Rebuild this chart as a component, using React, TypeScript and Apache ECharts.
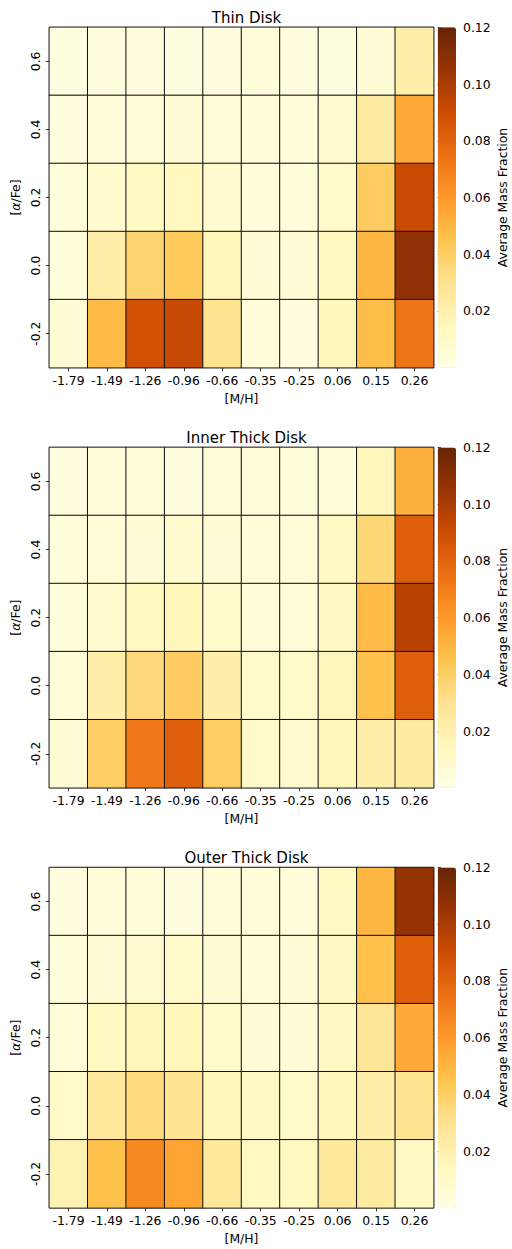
import React, { useEffect, useRef } from 'react';
import * as echarts from 'echarts';

const mhLabels = ['-1.79', '-1.49', '-1.26', '-0.96', '-0.66', '-0.35', '-0.25', '0.06', '0.15', '0.26'];
const afeLabels = ['-0.2', '0.0', '0.2', '0.4', '0.6'];
const panelTitles = ['Thin Disk', 'Inner Thick Disk', 'Outer Thick Disk'];
const colorbarTicks = [0.02, 0.04, 0.06, 0.08, 0.1, 0.12];
const colorbarLabel = 'Average Mass Fraction';
const colorMin = 0;
const colorMax = 0.12;
const ylOrBr = ['#ffffe5', '#fff7bc', '#fee391', '#fec44f', '#fe9929', '#ec7014', '#cc4c02', '#993404', '#662506'];

// rows listed from top ([α/Fe]=0.6) to bottom ([α/Fe]=-0.2)
const thinDisk = [
  [0.002, 0.003, 0.003, 0.002, 0.003, 0.004, 0.003, 0.002, 0.006, 0.022],
  [0.003, 0.004, 0.005, 0.006, 0.005, 0.004, 0.004, 0.008, 0.024, 0.054],
  [0.004, 0.008, 0.012, 0.014, 0.008, 0.004, 0.004, 0.010, 0.041, 0.091],
  [0.004, 0.022, 0.038, 0.042, 0.016, 0.006, 0.006, 0.014, 0.050, 0.108],
  [0.006, 0.048, 0.088, 0.092, 0.030, 0.004, 0.003, 0.015, 0.047, 0.073],
];
const innerThickDisk = [
  [0.003, 0.004, 0.004, 0.003, 0.004, 0.004, 0.004, 0.004, 0.016, 0.052],
  [0.004, 0.005, 0.006, 0.008, 0.006, 0.005, 0.005, 0.012, 0.036, 0.082],
  [0.004, 0.008, 0.014, 0.016, 0.009, 0.005, 0.005, 0.013, 0.048, 0.096],
  [0.005, 0.021, 0.035, 0.041, 0.021, 0.010, 0.010, 0.016, 0.046, 0.082],
  [0.006, 0.040, 0.072, 0.082, 0.040, 0.010, 0.008, 0.016, 0.022, 0.024],
];
const outerThickDisk = [
  [0.003, 0.004, 0.004, 0.003, 0.004, 0.004, 0.004, 0.012, 0.050, 0.106],
  [0.004, 0.006, 0.008, 0.010, 0.007, 0.005, 0.006, 0.013, 0.046, 0.082],
  [0.005, 0.013, 0.016, 0.016, 0.010, 0.006, 0.006, 0.013, 0.028, 0.054],
  [0.010, 0.026, 0.034, 0.030, 0.016, 0.012, 0.010, 0.016, 0.022, 0.030],
  [0.018, 0.046, 0.066, 0.056, 0.026, 0.014, 0.014, 0.026, 0.024, 0.012],
];
const panels = [thinDisk, innerThickDisk, outerThickDisk];

const FONT = 'DejaVu Sans';

export default function App() {
  const ref = useRef<HTMLDivElement>(null);
  useEffect(() => {
    if (!ref.current) return;
    const chart = echarts.init(ref.current, undefined, { renderer: 'svg' });
    const step = 420.1;
    const gLeft = 49.3, gWidth = 384.4, gTop = 27.3, gHeight = 340.4;
    const cbLeft = 437.7, cbWidth = 18.3;

    const grid: any[] = [];
    const xAxis: any[] = [];
    const yAxis: any[] = [];
    const series: any[] = [];
    const visualMap: any[] = [];
    const title: any[] = [];

    panels.forEach((rows, i) => {
      const top = gTop + step * i;
      grid.push({ left: gLeft, top, width: gWidth, height: gHeight, containLabel: false });
      xAxis.push({
        type: 'category', gridIndex: i, data: mhLabels,
        name: '[M/H]', nameLocation: 'middle', nameGap: 25,
        nameTextStyle: { fontFamily: FONT, fontSize: 12.4, color: '#000' },
        axisLine: { show: false },
        axisTick: { show: true, alignWithLabel: true, length: 3.5, lineStyle: { color: '#000', width: 0.8 } },
        axisLabel: { fontFamily: FONT, fontSize: 12.4, color: '#000', margin: 7, interval: 0 },
        splitLine: { show: false }, splitArea: { show: false },
      });
      yAxis.push({
        type: 'category', gridIndex: i, data: afeLabels,
        name: '[{a|α}/Fe]', nameLocation: 'middle', nameGap: 27, nameRotate: 90,
        nameTextStyle: { fontFamily: FONT, fontSize: 12.4, color: '#000', rich: { a: { fontStyle: 'italic', fontFamily: FONT, fontSize: 12.4, color: '#000' } } },
        axisLine: { show: false },
        axisTick: { show: true, alignWithLabel: true, length: 3.5, lineStyle: { color: '#000', width: 0.8 } },
        axisLabel: { fontFamily: FONT, fontSize: 12.4, color: '#000', margin: 8, rotate: 90, interval: 0 },
        splitLine: { show: false }, splitArea: { show: false },
      });
      title.push({
        text: panelTitles[i], left: gLeft + gWidth / 2, top: top - 22, textAlign: 'center',
        textStyle: { fontFamily: FONT, fontSize: 15, fontWeight: 'normal', color: '#000' },
      });
      const data: any[] = [];
      rows.forEach((row, r) => {
        row.forEach((v, c) => data.push([c, afeLabels.length - 1 - r, v]));
      });
      series.push({
        type: 'heatmap', xAxisIndex: i, yAxisIndex: i, data,
        itemStyle: { borderColor: '#111', borderWidth: 1 },
        emphasis: { disabled: true },
      });
      visualMap.push({
        type: 'continuous', seriesIndex: i, min: colorMin, max: colorMax,
        calculable: false, show: true, orient: 'vertical',
        left: cbLeft, top, itemWidth: cbWidth, itemHeight: gHeight, padding: 0,
        inRange: { color: ylOrBr }, hoverLink: false,
      });
    });

    panels.forEach((_, i) => {
      const top = gTop + step * i;
      grid.push({ left: cbLeft, top, width: cbWidth, height: gHeight, containLabel: false });
      xAxis.push({ type: 'value', gridIndex: 3 + i, show: false, min: 0, max: 1 });
      yAxis.push({
        type: 'value', gridIndex: 3 + i, position: 'right', min: colorMin, max: colorMax, interval: 0.02,
        name: colorbarLabel, nameLocation: 'middle', nameGap: 40, nameRotate: 90,
        nameTextStyle: { fontFamily: FONT, fontSize: 12.4, color: '#000' },
        axisLine: { show: false },
        axisTick: { show: true, length: 3.5, customValues: colorbarTicks, lineStyle: { color: '#000', width: 0.8 } },
        axisLabel: { fontFamily: FONT, fontSize: 12.4, color: '#000', margin: 7, customValues: colorbarTicks, formatter: (v: number) => v.toFixed(2) },
        splitLine: { show: false },
      });
    });

    chart.setOption({
      animation: false,
      title, grid, xAxis, yAxis, series, visualMap,
    });
    return () => chart.dispose();
  }, []);
  return <div ref={ref} style={{ position: 'absolute', left: 0, top: 0, width: 512, height: 1249 }} />;
}
